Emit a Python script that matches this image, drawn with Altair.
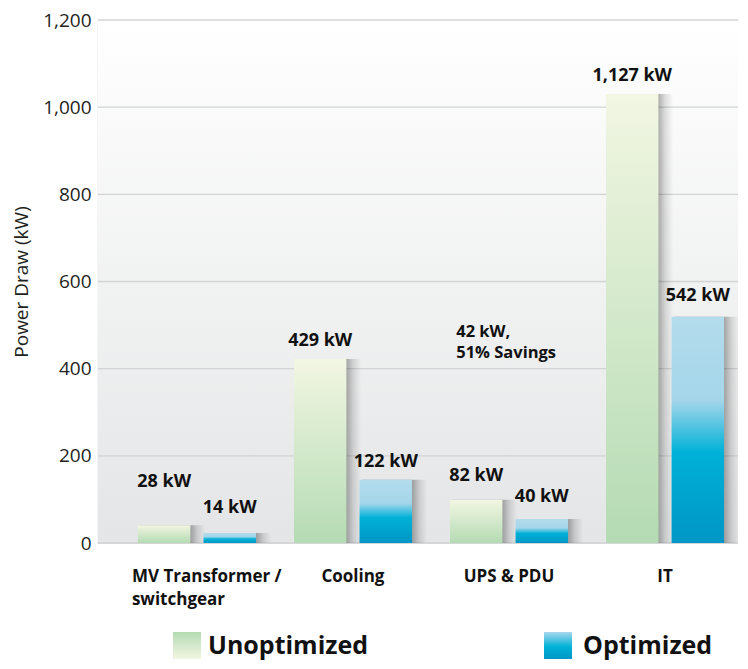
import altair as alt
import pandas as pd

# ---- data ----
categories = ["MV Transformer / switchgear", "Cooling", "UPS & PDU", "IT"]
series = ["Unoptimized", "Optimized"]
unopt_values = [41, 422, 99, 1030]          # drawn bar heights (kW axis)
opt_values = [23, 145, 55, 519]
unopt_labels = ["28 kW", "429 kW", "82 kW", "1,127 kW"]
opt_labels = ["14 kW", "122 kW", "40 kW", "542 kW"]
unopt_label_y = [140, 463, 154, 1072]       # where the value labels sit (kW axis)
opt_label_y = [80, 186, 106, 567]
ann_lines = ["42 kW,", "51% Savings"]
ann_y = [484, 436]
ann_category = "UPS & PDU"
y_ticks = [0, 200, 400, 600, 800, 1000, 1200]

FONT = "Open Sans"
W, H = 640, 523

rows = []
for i, c in enumerate(categories):
    rows.append({"category": c, "series": "Unoptimized", "value": unopt_values[i],
                 "label": unopt_labels[i], "label_y": unopt_label_y[i]})
    rows.append({"category": c, "series": "Optimized", "value": opt_values[i],
                 "label": opt_labels[i], "label_y": opt_label_y[i]})
df = pd.DataFrame(rows)
ann_df = pd.DataFrame({"category": [ann_category] * len(ann_lines), "series": ["Unoptimized"] * len(ann_lines),
                       "text": ann_lines, "y": ann_y})
grid_df = pd.DataFrame({"v": y_ticks})
one = pd.DataFrame({"a": [0]})

x_scale = alt.Scale(domain=categories, paddingInner=0.244, paddingOuter=0.173, align=0.74)
xoff_scale = alt.Scale(type="band", domain=series, paddingInner=0.2, paddingOuter=0, range=[0, 118])
# shadow: slightly wider bars, shifted to the right
xoff_shadow = alt.Scale(type="band", domain=series, paddingInner=0.015, paddingOuter=0, range=[2, 133])
y_scale = alt.Scale(domain=[0, 1200], nice=False)

green_grad = alt.Gradient(gradient="linear", x1=0, x2=0, y1=0, y2=1,
                          stops=[alt.GradientStop(color="#f2f6e2", offset=0),
                                 alt.GradientStop(color="#b4dbb3", offset=1)])
blue_grad = alt.Gradient(gradient="linear", x1=0, x2=0, y1=0, y2=1,
                         stops=[alt.GradientStop(color="#b3dcec", offset=0),
                                alt.GradientStop(color="#a4d6ea", offset=0.37),
                                alt.GradientStop(color="#00b1d8", offset=0.6),
                                alt.GradientStop(color="#0096c5", offset=1)])
shadow_grad = alt.Gradient(gradient="linear", x1=0, x2=1, y1=0, y2=0,
                           stops=[alt.GradientStop(color="rgba(0,0,0,0.30)", offset=0),
                                  alt.GradientStop(color="rgba(0,0,0,0.30)", offset=0.78),
                                  alt.GradientStop(color="rgba(0,0,0,0.12)", offset=0.88),
                                  alt.GradientStop(color="rgba(0,0,0,0)", offset=1)])
bg_grad = alt.Gradient(gradient="linear", x1=0, x2=0, y1=0, y2=1,
                       stops=[alt.GradientStop(color="#ffffff", offset=0),
                              alt.GradientStop(color="#e4e5e6", offset=1)])
legend_green = alt.Gradient(gradient="linear", x1=0, x2=0, y1=0, y2=1,
                            stops=[alt.GradientStop(color="#b4dbb3", offset=0),
                                   alt.GradientStop(color="#f2f6e2", offset=1)])
legend_blue = alt.Gradient(gradient="linear", x1=0, x2=0, y1=0, y2=1,
                           stops=[alt.GradientStop(color="#a8d8eb", offset=0),
                                  alt.GradientStop(color="#00b1d8", offset=0.55),
                                  alt.GradientStop(color="#0096c5", offset=1)])

bg = alt.Chart(one).mark_rect(color=bg_grad).encode(
    x=alt.value(0), x2=alt.value(W), y=alt.value(0), y2=alt.value(H))

grid = alt.Chart(grid_df).mark_rule(color="#d1d3d4", strokeWidth=1.3).encode(
    y=alt.Y("v:Q", scale=y_scale,
            axis=alt.Axis(values=y_ticks, format=",d", title="Power Draw (kW)", grid=False,
                          ticks=False, domainColor="#bcbec0", domainWidth=1.3,
                          labelFont=FONT, labelFontSize=19, labelColor="#231f20", labelPadding=7,
                          titleFont=FONT, titleFontSize=19, titleFontWeight="normal",
                          titleColor="#231f20", titlePadding=11)),
    x=alt.value(0), x2=alt.value(W))

x_enc = alt.X("category:N", scale=x_scale, title=None,
              axis=alt.Axis(labelAngle=0, domain=False, ticks=False, labelFont=FONT,
                            labelFontSize=17, labelFontWeight="bold", labelColor="#111111",
                            labelPadding=25, labelLineHeight=23, labelLimit=300,
                            labelExpr="datum.value == 'MV Transformer / switchgear' ? ['MV Transformer /', 'switchgear'] : datum.value",
                            labelAlign={"condition": {"test": "datum.value == 'MV Transformer / switchgear'", "value": "left"}, "value": "center"},
                            labelOffset={"condition": {"test": "datum.value == 'MV Transformer / switchgear'", "value": -65}, "value": 0}))
xo_enc = alt.XOffset("series:N", scale=xoff_scale)
y_enc = alt.Y("value:Q", scale=y_scale)

base = alt.Chart(df)
shadow = base.mark_bar(color=shadow_grad).encode(
    x=x_enc, xOffset=alt.XOffset("series:N", scale=xoff_shadow), y=y_enc)
bars_u = base.transform_filter("datum.series == 'Unoptimized'").mark_bar(color=green_grad).encode(
    x=x_enc, xOffset=xo_enc, y=y_enc)
bars_o = base.transform_filter("datum.series == 'Optimized'").mark_bar(color=blue_grad).encode(
    x=x_enc, xOffset=xo_enc, y=y_enc)
labels = base.mark_text(font=FONT, fontSize=18, fontWeight="bold", color="#111111").encode(
    x=x_enc, xOffset=xo_enc, y=alt.Y("label_y:Q", scale=y_scale), text="label:N")
ann = alt.Chart(ann_df).mark_text(font=FONT, fontSize=16.5, fontWeight="bold", color="#111111",
                                  align="left", dx=-20).encode(
    x=x_enc, xOffset=xo_enc, y=alt.Y("y:Q", scale=y_scale), text="text:N")

leg_u_box = alt.Chart(one).mark_rect(color=legend_green).encode(
    x=alt.value(75), x2=alt.value(103), y=alt.value(612), y2=alt.value(639))
leg_o_box = alt.Chart(one).mark_rect(color=legend_blue).encode(
    x=alt.value(446), x2=alt.value(474), y=alt.value(612), y2=alt.value(639))
leg_u_txt = alt.Chart(one).mark_text(text="Unoptimized", font=FONT, fontSize=25, fontWeight="bold",
                                     color="#111111", align="left", baseline="alphabetic").encode(
    x=alt.value(110), y=alt.value(634))
leg_o_txt = alt.Chart(one).mark_text(text="Optimized", font=FONT, fontSize=25, fontWeight="bold",
                                     color="#111111", align="left", baseline="alphabetic").encode(
    x=alt.value(485), y=alt.value(634))

chart = alt.layer(bg, grid, shadow, bars_u, bars_o, labels, ann,
                  leg_u_box, leg_o_box, leg_u_txt, leg_o_txt).resolve_scale(
    xOffset="independent"
).properties(
    width=W, height=H,
    autosize=alt.AutoSizeParams(type="none"),
    padding={"left": 90, "top": 12, "right": 0, "bottom": 118},
).configure_view(stroke=None).configure(background="white")

chart.save("out.html", embed_options={"renderer": "svg", "actions": False})
